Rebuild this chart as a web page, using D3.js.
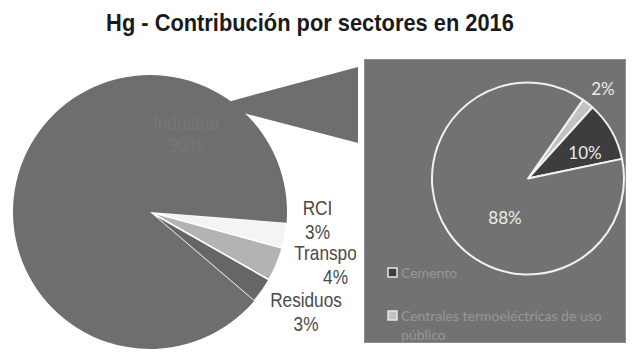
<!DOCTYPE html>
<html><head><meta charset="utf-8">
<script src="https://cdn.jsdelivr.net/npm/d3@7"></script>
<style>body{margin:0;background:#fff}svg{display:block}</style>
</head><body>
<svg id="c" width="635" height="355"></svg>
<script>
const title = "Hg - Contribución por sectores en 2016";
const mainCategories = ["RCI", "Transporte", "Residuos", "Industria"];
const mainValues = [3, 4, 3, 90];
const subCategories = ["Centrales termoeléctricas de uso público", "Cemento", "Otros"];
const subValues = [2, 10, 88];
const legendItems = ["Cemento", "Centrales termoeléctricas de uso público"];

const svg = d3.select("#c");
const deg = Math.PI / 180;

// title
svg.append("text").attr("transform", "translate(310,31) scale(0.95,1)")
  .attr("text-anchor", "middle").attr("font-family", "Liberation Sans, Arial, sans-serif")
  .attr("font-weight", "bold").attr("font-size", 23).attr("fill", "#1a1a1a").text(title);

// ---------- main pie ----------
const mc = [150, 212], mr = 137;
const mainColors = d3.scaleOrdinal().domain(mainCategories).range(["#f4f4f4", "#b3b3b3", "#666666", "#6e6e6e"]);
const mainPie = d3.pie().sort(null).value(d => d.v).startAngle(94.5 * deg).endAngle(94.5 * deg + 2 * Math.PI);
const mainData = mainPie(mainCategories.map((c, i) => ({c, v: mainValues[i]})));
const arcM = d3.arc().innerRadius(0).outerRadius(mr);

// connector (drawn first, under the pie and labels)
const ep = a => [mc[0] + mr * Math.sin(a), mc[1] - mr * Math.cos(a)];
const p1 = ep(36 * deg), p2 = ep(44 * deg);
svg.append("polygon").attr("points", [mc, p1, [358, 67], [358, 143], p2].map(p => p.join(",")).join(" "))
  .attr("fill", "#6e6e6e");

svg.append("defs").append("clipPath").attr("id", "lc").append("rect")
  .attr("x", 0).attr("y", 0).attr("width", 356).attr("height", 355);
const left = svg.append("g").attr("clip-path", "url(#lc)");
const gm = left.append("g").attr("transform", `translate(${mc[0]},${mc[1]})`);

gm.selectAll("path").data(mainData).join("path")
  .attr("d", arcM).attr("fill", d => mainColors(d.data.c))
  .attr("stroke", d => d.data.c === "Industria" ? "none" : "#fff").attr("stroke-width", 1.5);

// main labels (relative to pie centre)
const mainLabelPos = {RCI: [167.5, 3], Transporte: [185.5, 48], Residuos: [156, 95], Industria: [36, -82]};
mainData.forEach(d => {
  const [dx, dy] = mainLabelPos[d.data.c];
  const ind = d.data.c === "Industria";
  const col = ind ? "#777777" : "#4a4a4a";
  [d.data.c, Math.round((d.endAngle - d.startAngle) / (2 * Math.PI) * 100) + "%"].forEach((t, k) => {
    gm.append("text").attr("transform", `translate(${dx},${dy + k * (ind ? 22 : 24)}) scale(0.82,1)`)
      .attr("text-anchor", "middle").attr("font-family", "Liberation Sans, Arial, sans-serif")
      .attr("font-size", 21).attr("fill", col).text(t);
  });
});

// ---------- sub panel ----------
svg.append("rect").attr("x", 364.5).attr("y", 59.5).attr("width", 261).attr("height", 283)
  .attr("fill", "#727272").attr("stroke", "#8e8e8e").attr("stroke-width", 1);

const sc = [528, 178.5], sr = 96;
const subColors = d3.scaleOrdinal().domain(subCategories).range(["#c2c2c2", "#3d3d3d", "#727272"]);
const subPie = d3.pie().sort(null).value(d => d.v).startAngle(35 * deg).endAngle(35 * deg + 2 * Math.PI);
const subData = subPie(subCategories.map((c, i) => ({c, v: subValues[i]})));
const arcS = d3.arc().innerRadius(0).outerRadius(sr);
const gs = svg.append("g").attr("transform", `translate(${sc[0]},${sc[1]})`);
gs.selectAll("path").data(subData).join("path")
  .attr("d", arcS).attr("fill", d => subColors(d.data.c))
  .attr("stroke", "#f2f2f2").attr("stroke-width", 2).attr("stroke-linejoin", "round");

const subLabelPos = {"Centrales termoeléctricas de uso público": [75, -84], Cemento: [57, -20], Otros: [-23, 45]};
subData.forEach(d => {
  const [dx, dy] = subLabelPos[d.data.c];
  gs.append("text").attr("x", dx).attr("y", dy).attr("text-anchor", "middle")
    .attr("font-family", "Lato, sans-serif").attr("font-size", 17).attr("fill", "#ececec")
    .text(d.data.v + "%");
});

// legend
const lg = svg.append("g");
legendItems.forEach((t, i) => {
  const y = 268 + i * 43;
  lg.append("rect").attr("x", 388).attr("y", y).attr("width", 9).attr("height", 9)
    .attr("fill", subColors(t)).attr("stroke", "#e6e6e6").attr("stroke-width", 1.5);
  const words = t.split(" ");
  const lines = t.length > 25 ? [words.slice(0, 4).join(" "), words.slice(4).join(" ")] : [t];
  lines.forEach((l, k) => {
    lg.append("text").attr("x", 401).attr("y", y + 10 + k * 19)
      .attr("font-family", "Lato, sans-serif").attr("font-size", 14).attr("fill", "#979797").text(l);
  });
});
</script>
</body></html>
